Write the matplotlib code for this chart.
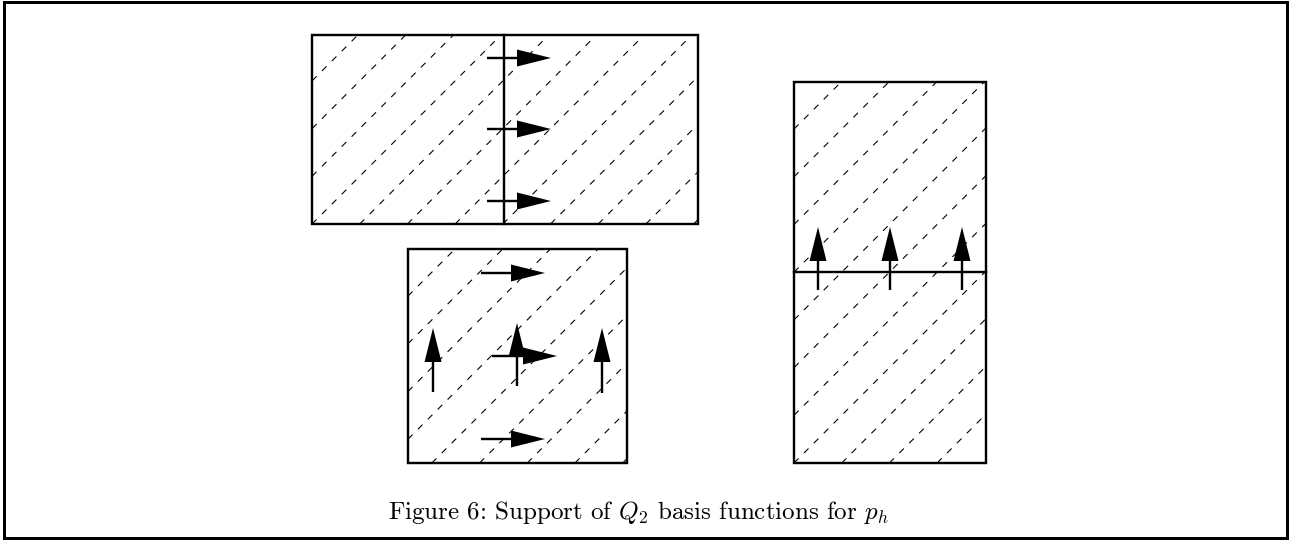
"""Support of Q2 basis functions for p_h (diagram)."""
import matplotlib
matplotlib.use('Agg')
import matplotlib.pyplot as plt
from matplotlib.patches import Rectangle, FancyArrow
import numpy as np

W, H = 1289, 540

# Element rectangles (pixel coords, y downwards)
RECT_LEFT = [312, 408, 794]
RECT_TOP = [35, 249, 82]
RECT_RIGHT = [698, 627, 986]
RECT_BOTTOM = [224, 463, 463]
HATCH_PHASE = [0.0, 0.5, 0.0]   # offset of hatch lines, in spacings
HATCH_SPACING = 47.7

# Shared edges between two elements
DIV_X0 = [504, 794]
DIV_Y0 = [35, 272]
DIV_X1 = [504, 986]
DIV_Y1 = [224, 272]

# Basis function arrows: tail -> tip
ARROW_X0 = [487, 487, 487, 481, 492, 481, 433, 517, 602, 818, 890, 962]
ARROW_Y0 = [58, 129, 201, 273, 356, 439, 392, 386, 393, 290, 290, 290]
ARROW_X1 = [551, 551, 551, 545, 557, 545, 433, 517, 602, 818, 890, 962]
ARROW_Y1 = [58, 129, 201, 273, 356, 439, 328, 323, 328, 227, 227, 227]

CAPTION = r'Figure 6: Support of $Q_2$ basis functions for $p_h$'

plt.rcParams['font.family'] = ['cmr10', 'DejaVu Serif']
plt.rcParams['mathtext.fontset'] = 'cm'
plt.rcParams['axes.formatter.use_mathtext'] = True
plt.rcParams['lines.scale_dashes'] = False

fig = plt.figure(figsize=(W / 100, H / 100), dpi=100)
ax = fig.add_axes([0, 0, 1, 1])
ax.set_xlim(0, W)
ax.set_ylim(H, 0)
ax.axis('off')

px = 0.72  # points per pixel at dpi 100

# outer frame
ax.add_patch(Rectangle((4, 2), 1283, 536, fill=False, lw=3 * px,
                       edgecolor='black'))

# dashed diagonal hatching, lines x + y = c
for x0, y0, x1, y1, ph in zip(RECT_LEFT, RECT_TOP, RECT_RIGHT, RECT_BOTTOM,
                              HATCH_PHASE):
    c0 = x0 + y1 + ph * HATCH_SPACING
    cs = np.arange(c0 - 40 * HATCH_SPACING, x1 + y1, HATCH_SPACING)
    for c in cs:
        xa = max(x0, c - y1)
        xb = min(x1, c - y0)
        if xb - xa < 1:
            continue
        ax.plot([xa, xb], [c - xa, c - xb], color='black', lw=1.1 * px,
                dashes=(6.5 * px, 7.5 * px), solid_capstyle='butt')

for x0, y0, x1, y1 in zip(RECT_LEFT, RECT_TOP, RECT_RIGHT, RECT_BOTTOM):
    ax.add_patch(Rectangle((x0, y0), x1 - x0, y1 - y0, fill=False,
                           lw=2.4 * px, edgecolor='black', zorder=3))

for xa, ya, xb, yb in zip(DIV_X0, DIV_Y0, DIV_X1, DIV_Y1):
    ax.plot([xa, xb], [ya, yb], color='black', lw=2.4 * px, zorder=3)

for xa, ya, xb, yb in zip(ARROW_X0, ARROW_Y0, ARROW_X1, ARROW_Y1):
    ax.add_patch(FancyArrow(xa, ya, xb - xa, yb - ya, width=2.4,
                            head_width=17, head_length=34,
                            length_includes_head=True, color='black',
                            lw=0, zorder=4))

ax.text(638, 512, CAPTION, ha='center', va='center', fontsize=18)

fig.savefig('out.png', dpi=100)
